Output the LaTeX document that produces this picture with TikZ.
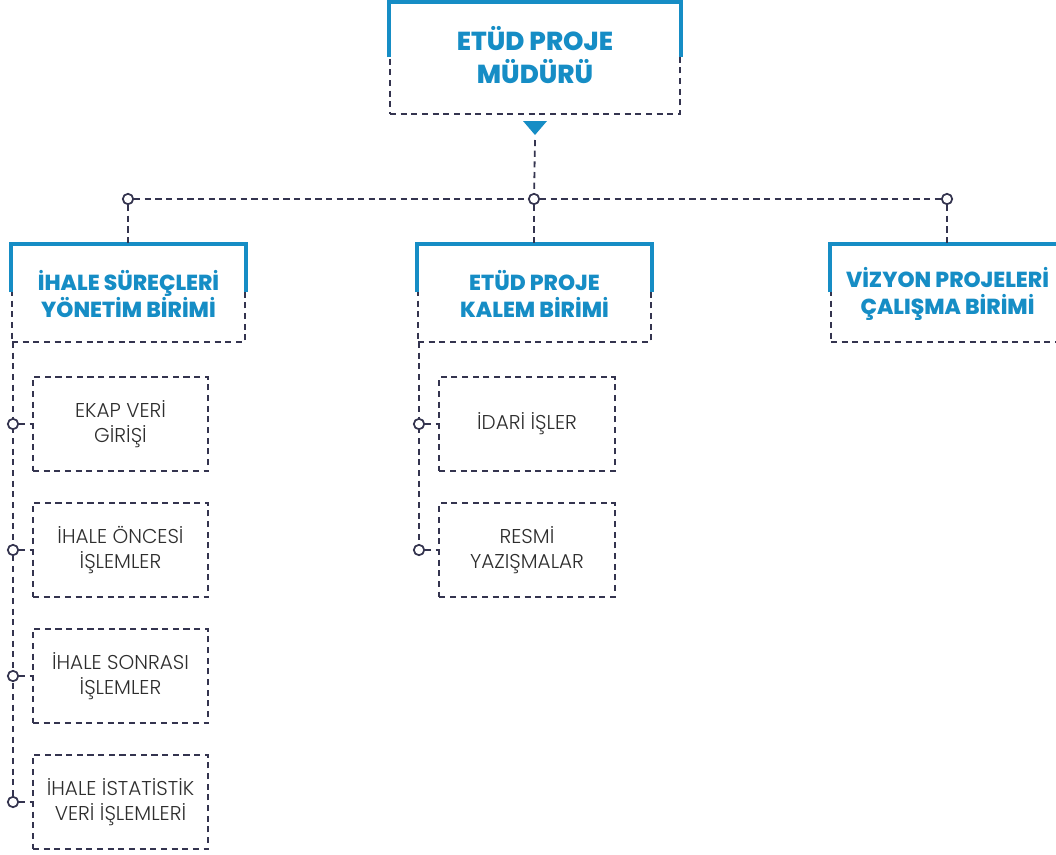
\documentclass[tikz,border=0pt]{standalone}
\usepackage{fontspec}
\setmainfont{Poppins}
\newfontfamily\lightfont{Poppins Light}
\newfontfamily\xbfont{Poppins ExtraBold}
\usetikzlibrary{calc}
\definecolor{bl}{HTML}{168DC5}
\definecolor{nv}{HTML}{34344F}
\definecolor{tx}{HTML}{2E2E2E}
\tikzset{
  dline/.style={draw=nv, line width=1.35pt, dash pattern=on 4.6pt off 3.4pt},
  bline/.style={draw=bl, line width=3.2pt},
  headbox/.style={dline, minimum width=217.5pt, minimum height=83.25pt, align=center,
    text=bl, font=\xbfont\fontsize{19.5}{24.75}\selectfont, inner sep=0pt},
  unitbox/.style={dline, minimum width=174.75pt, minimum height=72.75pt, align=center,
    text=bl, font=\xbfont\fontsize{16.3}{20.25}\selectfont, inner sep=0pt},
  subbox/.style={dline, minimum width=131.5pt, minimum height=70.5pt, align=center,
    text=tx, font=\lightfont\fontsize{15}{18.75}\selectfont, inner sep=0pt},
  dot/.style={circle, draw=nv, line width=1.3pt, fill=white, minimum size=7.8pt, inner sep=0pt},
}
\begin{document}
\begin{tikzpicture}[x=0.75pt, y=-0.75pt]
\useasboundingbox (0,0) rectangle (1056,854);
% head
\node[headbox] (top) at (535,58.5) {};
\node[text=bl, font=\xbfont\fontsize{19.5}{24.75}\selectfont, align=center, inner sep=0pt] (toptext) at (535,55.5) {ETÜD PROJE\\MÜDÜRÜ};
\draw[bline] ($(top.north west)+(0,55)$) -- (top.north west) -- (top.north east) -- ++(0,55);
\coordinate (tri) at (535,135);
\fill[bl] (tri) -- ++(-12,-14) -- ++(24,0) -- cycle;
\coordinate (trib) at (535,140);
% units
\node[unitbox] (u1) at (128.5,293.5) {İHALE SÜREÇLERİ\\YÖNETİM BİRİMİ};
\node[unitbox] (u2) at (534.5,293.5) {ETÜD PROJE\\KALEM BİRİMİ};
\node[unitbox] (u3) at (947.5,293.5) {VİZYON PROJELERİ\\ÇALIŞMA BİRİMİ};
\foreach \u in {u1,u2,u3}{
  \draw[bline] ($(\u.north west)+(0,48)$) -- (\u.north west) -- (\u.north east) -- ++(0,48);
}
% branch dots
\node[dot] (c1) at (128,199) {};
\node[dot] (c2) at (534,199) {};
\node[dot] (c3) at (947,199) {};
\draw[dline] (trib) -- (c2);
\draw[dline] (c1) -- (c2);
\draw[dline] (c2) -- (c3);
\draw[dline] (c1) -- (u1.north -| c1);
\draw[dline] (c2) -- (u2.north -| c2);
\draw[dline] (c3) -- (u3.north -| c3);
% sub boxes left
\node[subbox] (s1) at (120.5,424) {EKAP VERİ\\GİRİŞİ};
\node[subbox] (s2) at (120.5,550) {İHALE ÖNCESİ\\İŞLEMLER};
\node[subbox] (s3) at (120.5,676) {İHALE SONRASI\\İŞLEMLER};
\node[subbox] (s4) at (120.5,802) {İHALE İSTATİSTİK\\VERİ İŞLEMLERİ};
% sub boxes middle
\node[subbox] (m1) at (527,424) {İDARİ İŞLER};
\node[subbox] (m2) at (527,550) {RESMİ\\YAZIŞMALAR};
% spines
\coordinate (l0) at (13,342);
\coordinate (r0) at (419,342);
\draw[dline] (l0) -- (13,802);
\draw[dline] (r0) -- (419,550);
\foreach \s/\y in {s1/424,s2/550,s3/676,s4/802}{
  \node[dot] (d\s) at (13,\y) {};
  \draw[dline] (d\s) -- (\s);
}
\foreach \s/\y in {m1/424,m2/550}{
  \node[dot] (d\s) at (419,\y) {};
  \draw[dline] (d\s) -- (\s);
}
\end{tikzpicture}
\end{document}
